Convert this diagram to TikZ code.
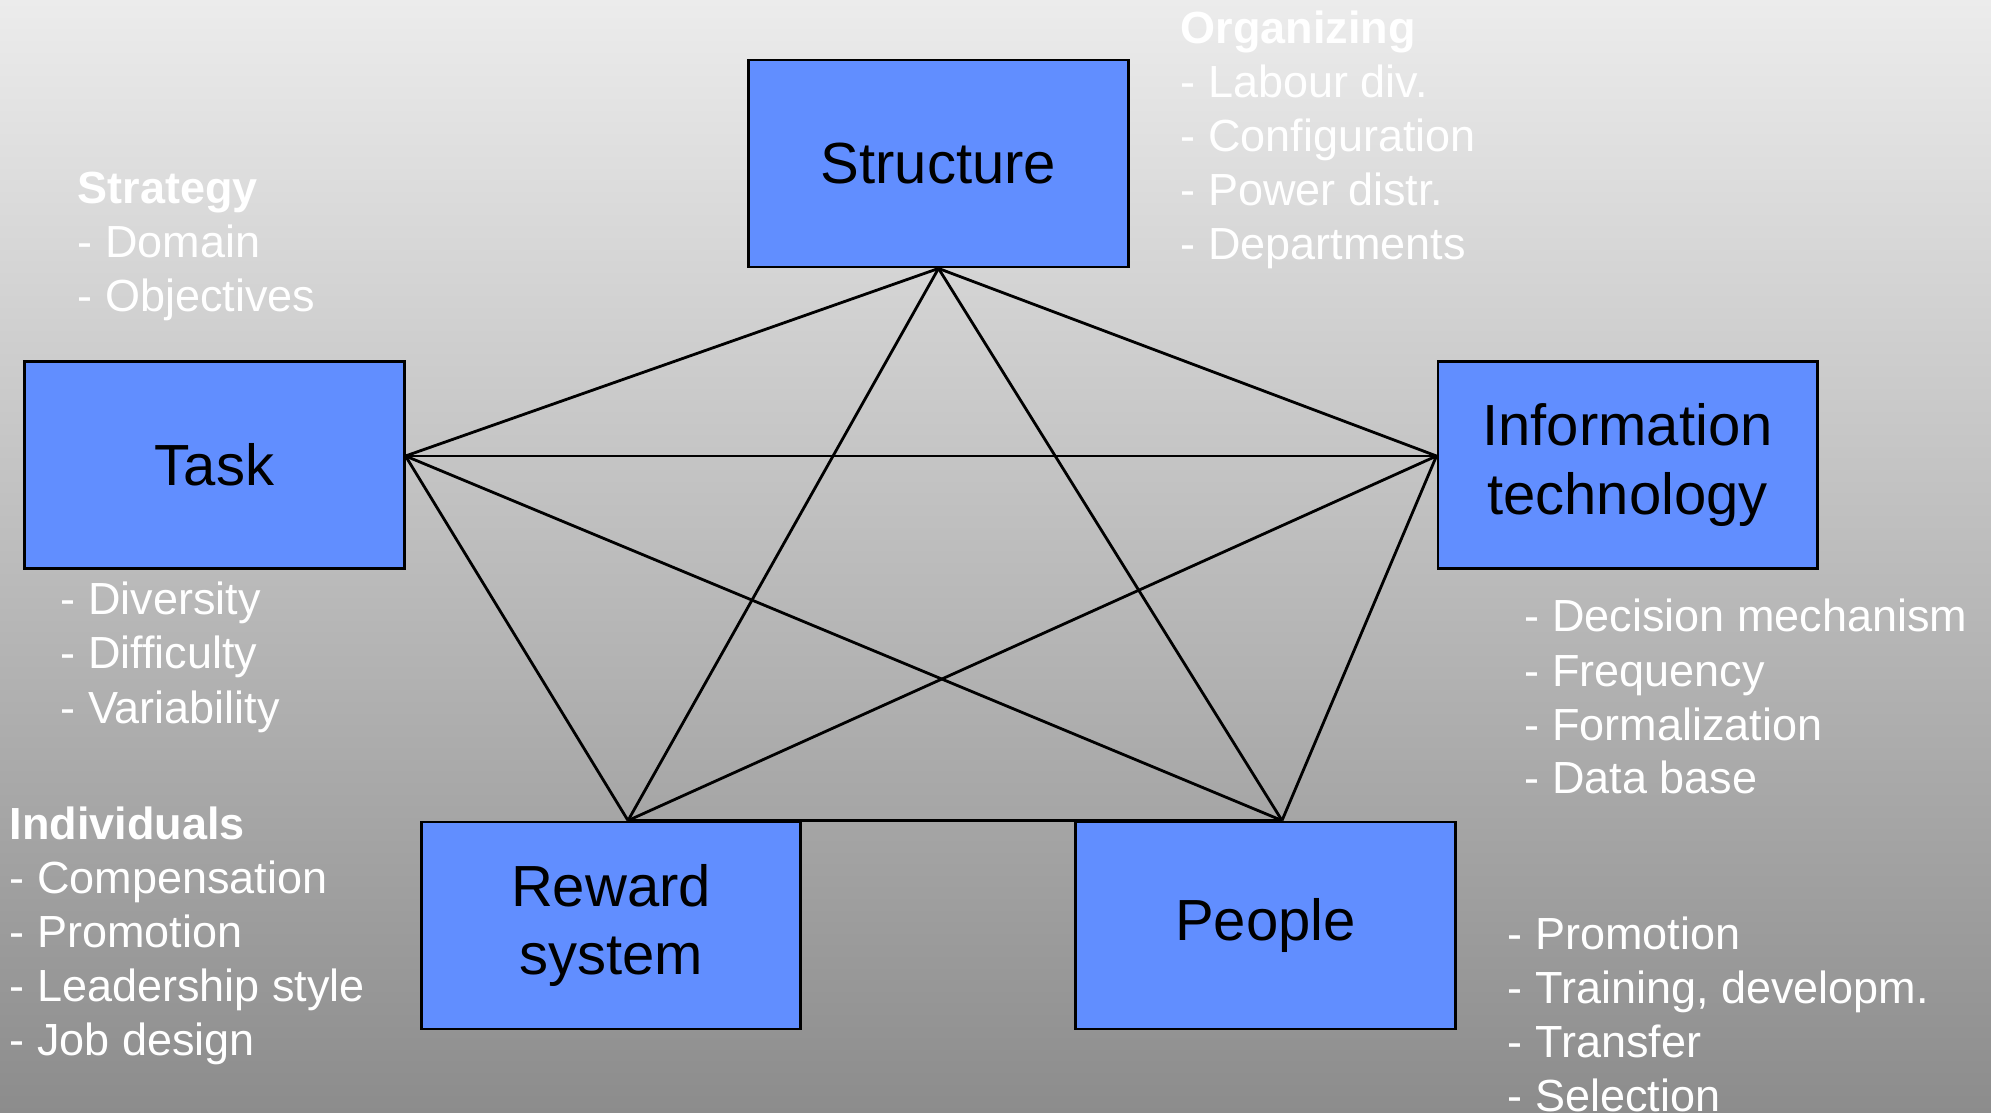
\documentclass[tikz,border=0pt]{standalone}
\usepackage{fontspec}
\setmainfont{Liberation Sans}
\definecolor{boxblue}{RGB}{97,142,255}
\definecolor{bgtop}{RGB}{236,236,236}
\definecolor{bgbottom}{RGB}{140,140,140}
\begin{document}
\begin{tikzpicture}[x=0.01cm,y=-0.01cm,
  block/.style={draw,line width=0.8pt,fill=boxblue,minimum width=3.79cm,minimum height=2.07cm,
    inner sep=0pt,align=center,font=\fontsize{16.5}{19.5}\selectfont},
  note/.style={text=white,anchor=base west,inner sep=0pt,font=\fontsize{12.8}{15}\selectfont},
  head/.style={note,font=\bfseries\fontsize{12.8}{15}\selectfont},
  link/.style={line width=0.8pt}]
\useasboundingbox (0,0) rectangle (1991,1113);
\shade[top color=bgtop,bottom color=bgbottom] (0,0) rectangle (1991,1113);
\node[block] (structure) at (938.5,163.5) {Structure};
\node[block] (task) at (214.5,465) {Task};
\node[block] (infotech) at (1627.5,465) {Information\\technology};
\node[block] (reward) at (611,925.5) {Reward\\system};
\node[block] (people) at (1265.5,925.5) {People};
\coordinate (s) at (structure.south);
\coordinate (t) at ([yshift=0.09cm]task.east);
\coordinate (i) at ([yshift=0.09cm]infotech.west);
\coordinate (r) at ([xshift=0.17cm]reward.north);
\coordinate (p) at ([xshift=0.165cm]people.north);
\foreach \a/\b in {s/t,s/i,s/r,s/p,t/i,t/r,t/p,i/r,i/p,r/p}
	\draw[link] (\a) -- (\b);
\node[head] (orghead) at (1180,44) {Organizing};
\foreach \t [count=\n] in {Labour div.,Configuration,Power distr.,Departments}
	\node[note] (org\n) at (1180,44+54*\n) {- \t};
\node[head] (strathead) at (77,204) {Strategy};
\foreach \t [count=\n] in {Domain,Objectives}
	\node[note] (strat\n) at (77,204+54*\n) {- \t};
\foreach \t [count=\n from 0] in {Diversity,Difficulty,Variability}
	\node[note] (tasknote\n) at (60,615+54*\n) {- \t};
\foreach \t [count=\n from 0] in {Decision mechanism,Frequency,Formalization,Data base}
	\node[note] (itnote\n) at (1524,632+54*\n) {- \t};
\node[head] (indhead) at (9,839) {Individuals};
\foreach \t [count=\n] in {Compensation,Promotion,Leadership style,Job design}
	\node[note] (ind\n) at (9,839+54*\n) {- \t};
\foreach \t [count=\n from 0] in {Promotion,{Training, developm.},Transfer,Selection}
	\node[note] (peoplenote\n) at (1507,949+54*\n) {- \t};
\end{tikzpicture}
\end{document}
